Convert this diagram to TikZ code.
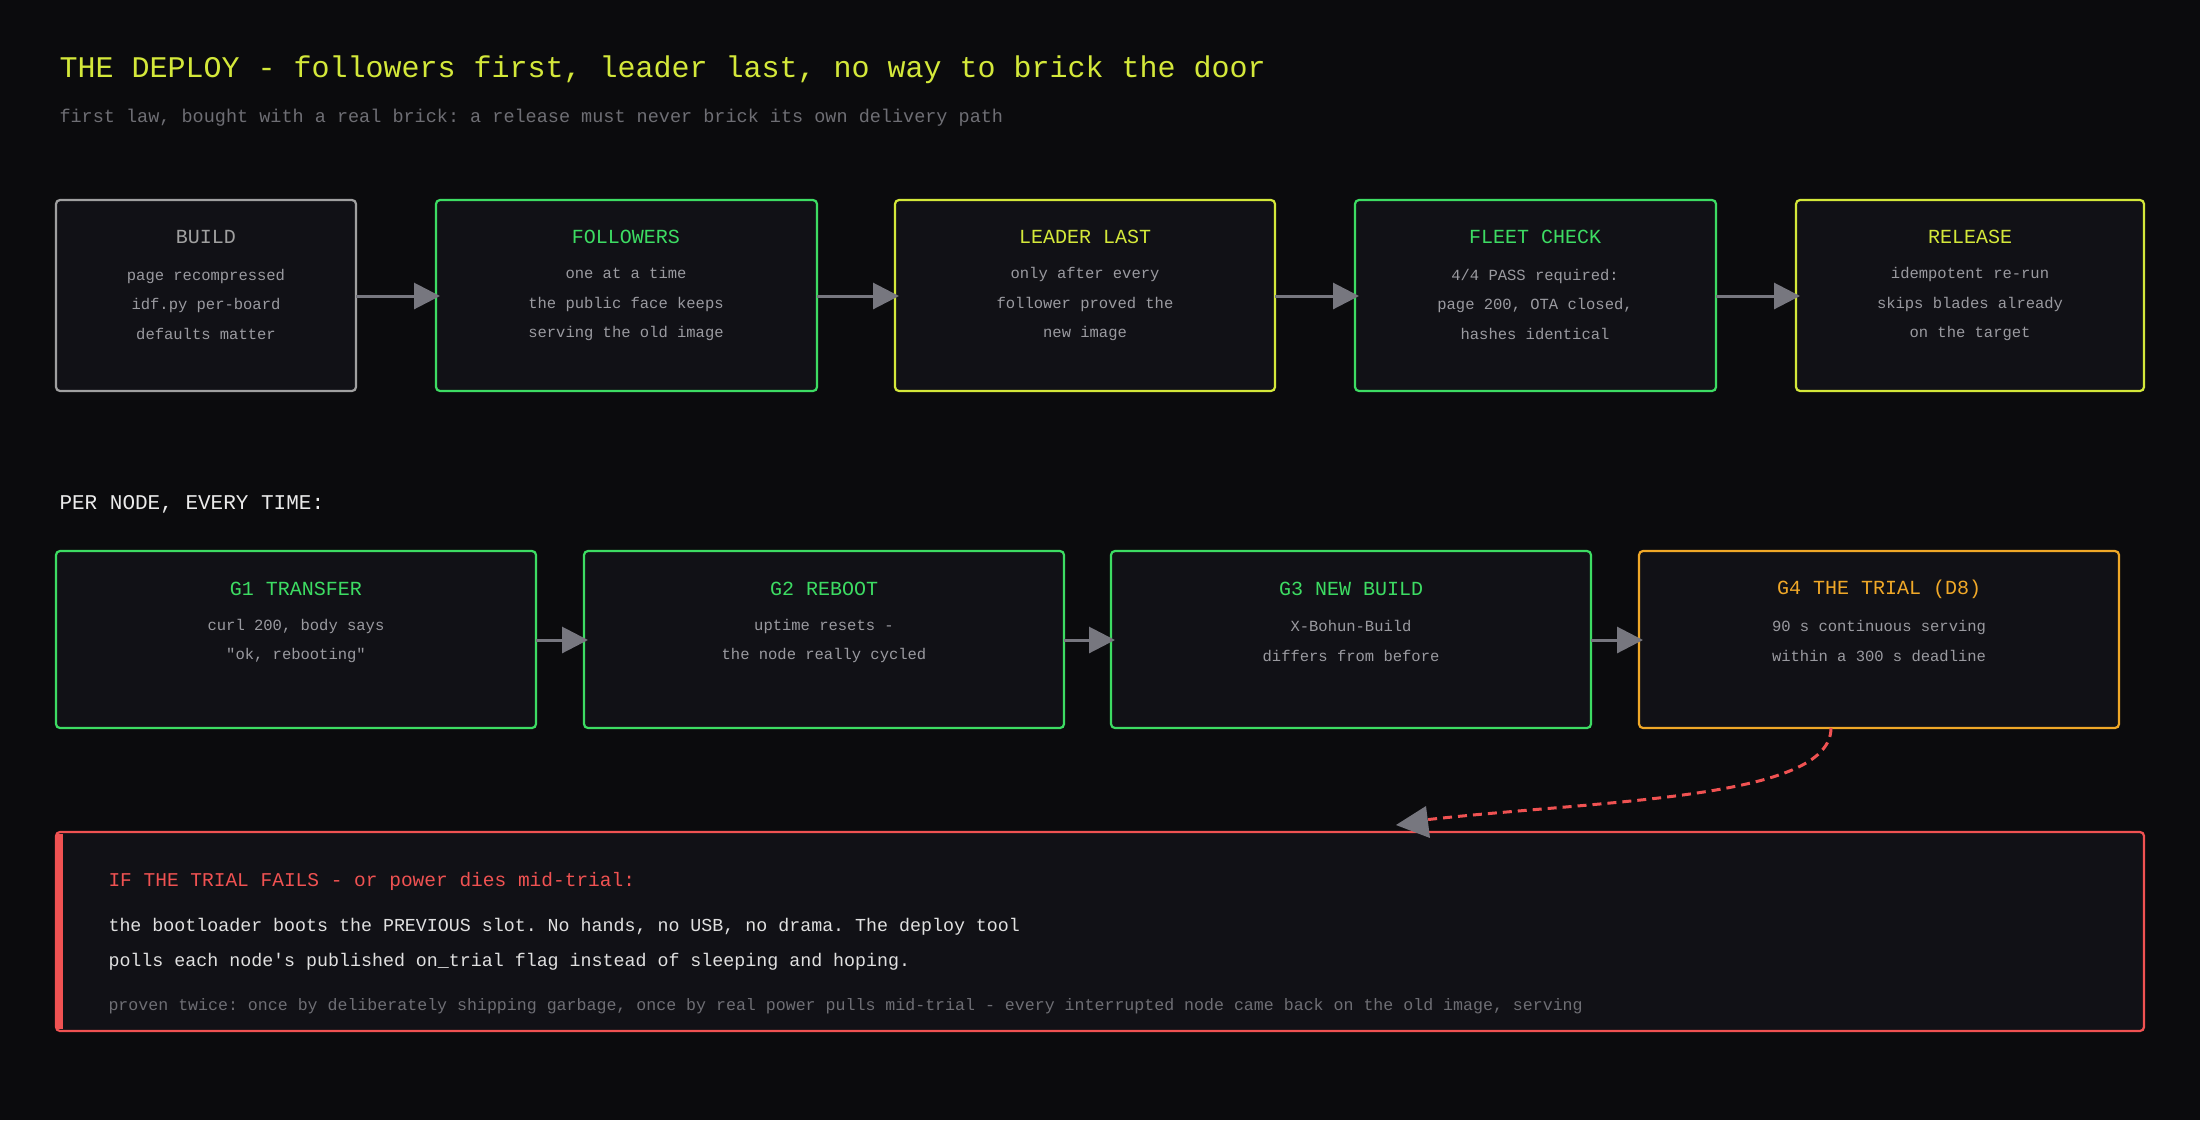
\documentclass[tikz,border=0pt]{standalone}
\usepackage{fontspec}
\setmonofont{Liberation Mono}
\usetikzlibrary{arrows.meta}
\definecolor{bgc}{HTML}{0B0B0D}
\definecolor{boxc}{HTML}{111116}
\definecolor{grn}{HTML}{3DDC63}
\definecolor{ylw}{HTML}{D4E83A}
\definecolor{gry}{HTML}{A0A0A0}
\definecolor{org}{HTML}{F0A828}
\definecolor{rd}{HTML}{F05252}
\definecolor{arr}{HTML}{77777F}
\definecolor{txt}{HTML}{9A9AA0}
\definecolor{dim}{HTML}{6E6E74}
\tikzset{
    stage/.style={draw=#1, line width=2.2pt, fill=boxc, rounded corners=4pt, inner sep=0pt},
    flow/.style={draw=arr, line width=3pt, -{Triangle[length=26pt,width=26pt]}},
    head/.style={font=\ttfamily\fontsize{20}{22}\selectfont, text=#1},
    body/.style={font=\ttfamily\fontsize{15.5}{29.5}\selectfont, text=txt, align=center}
}
\begin{document}
\begin{tikzpicture}[x=1pt,y=-1pt]
        \fill[bgc] (0,0) rectangle (2200,1120);

        \node[anchor=west, font=\ttfamily\fontsize{30}{34}\selectfont, text=ylw] (title) at (56,70)
            {THE DEPLOY - followers first, leader last, no way to brick the door};
        \node[anchor=west, font=\ttfamily\fontsize{18.5}{24}\selectfont, text=dim] (sub) at (56,118)
            {first law, bought with a real brick: a release must never brick its own delivery path};

        % top row
        \draw[stage=gry] (56,200) rectangle (356,391);
        \draw[stage=grn] (436,200) rectangle (817,391);
        \draw[stage=ylw] (895,200) rectangle (1275,391);
        \draw[stage=grn] (1355,200) rectangle (1716,391);
        \draw[stage=ylw] (1796,200) rectangle (2144,391);

        \node[head=gry] (buildh) at (206,237) {BUILD};
        \node[body] (buildb) at (206,304) {page recompressed\\idf.py per-board\\defaults matter};
        \node[head=grn] (folh) at (626,237) {FOLLOWERS};
        \node[body] (folb) at (626,304) {one at a time\\the public face keeps\\serving the old image};
        \node[head=ylw] (leadh) at (1085,237) {LEADER LAST};
        \node[body] (leadb) at (1085,304) {only after every\\follower proved the\\new image};
        \node[head=grn] (fleeth) at (1535,237) {FLEET CHECK};
        \node[body] (fleetb) at (1535,304) {4/4 PASS required:\\page 200, OTA closed,\\hashes identical};
        \node[head=ylw] (relh) at (1970,237) {RELEASE};
        \node[body] (relb) at (1970,304) {idempotent re-run\\skips blades already\\on the target};

        \foreach \a/\b in {356/440, 817/899, 1275/1359, 1716/1800}{
                \draw[flow] (\a,296) -- (\b,296);
            }

        % per node gates
        \node[anchor=west, font=\ttfamily\fontsize{21}{24}\selectfont, text=white!92!black] (per) at (56,504)
            {PER NODE, EVERY TIME:};

        \draw[stage=grn] (56,551) rectangle (536,728);
        \draw[stage=grn] (584,551) rectangle (1064,728);
        \draw[stage=grn] (1111,551) rectangle (1591,728);
        \draw[stage=org] (1639,551) rectangle (2119,728);

        \node[head=grn] (g1h) at (296,589) {G1 TRANSFER};
        \node[body] (g1b) at (296,641) {curl 200, body says\\"ok, rebooting"};
        \node[head=grn] (g2h) at (824,589) {G2 REBOOT};
        \node[body] (g2b) at (824,641) {uptime resets -\\the node really cycled};
        \node[head=grn] (g3h) at (1351,589) {G3 NEW BUILD};
        \node[body] (g3b) at (1351,641) {X-Bohun-Build\\differs from before};
        \node[head=org] (g4h) at (1879,589) {G4 THE TRIAL (D8)};
        \node[body] (g4b) at (1879,641) {90 s continuous serving\\within a 300 s deadline};

        \foreach \a/\b in {536/588, 1064/1115, 1591/1643}{
                \draw[flow] (\a,640) -- (\b,640);
            }

        % failure path
        \draw[stage=rd] (56,832) rectangle (2144,1031);
        \fill[rd] (56,834) rectangle (63,1029);
        \coordinate (trial) at (1831,728);
        \draw[rd, line width=3pt, dash pattern=on 9pt off 6pt] (trial) .. controls (1831,800) and (1600,800) .. (1424,820);
        \draw[draw=none, fill=arr] (1396,825) -- (1426,806) -- (1430,838) -- cycle;

        \node[anchor=west, font=\ttfamily\fontsize{19.5}{24}\selectfont, text=rd] (failh) at (105,881)
            {IF THE TRIAL FAILS - or power dies mid-trial:};
        \node[anchor=west, font=\ttfamily\fontsize{18.3}{35}\selectfont, text=white!88!black, align=left] (failb) at (105,944)
            {the bootloader boots the PREVIOUS slot. No hands, no USB, no drama. The deploy tool\\polls each node's published on\_trial flag instead of sleeping and hoping.};
        \node[anchor=west, font=\ttfamily\fontsize{16.6}{22}\selectfont, text=dim] (failf) at (105,1006)
            {proven twice: once by deliberately shipping garbage, once by real power pulls mid-trial - every interrupted node came back on the old image, serving};
    \end{tikzpicture}
\end{document}
